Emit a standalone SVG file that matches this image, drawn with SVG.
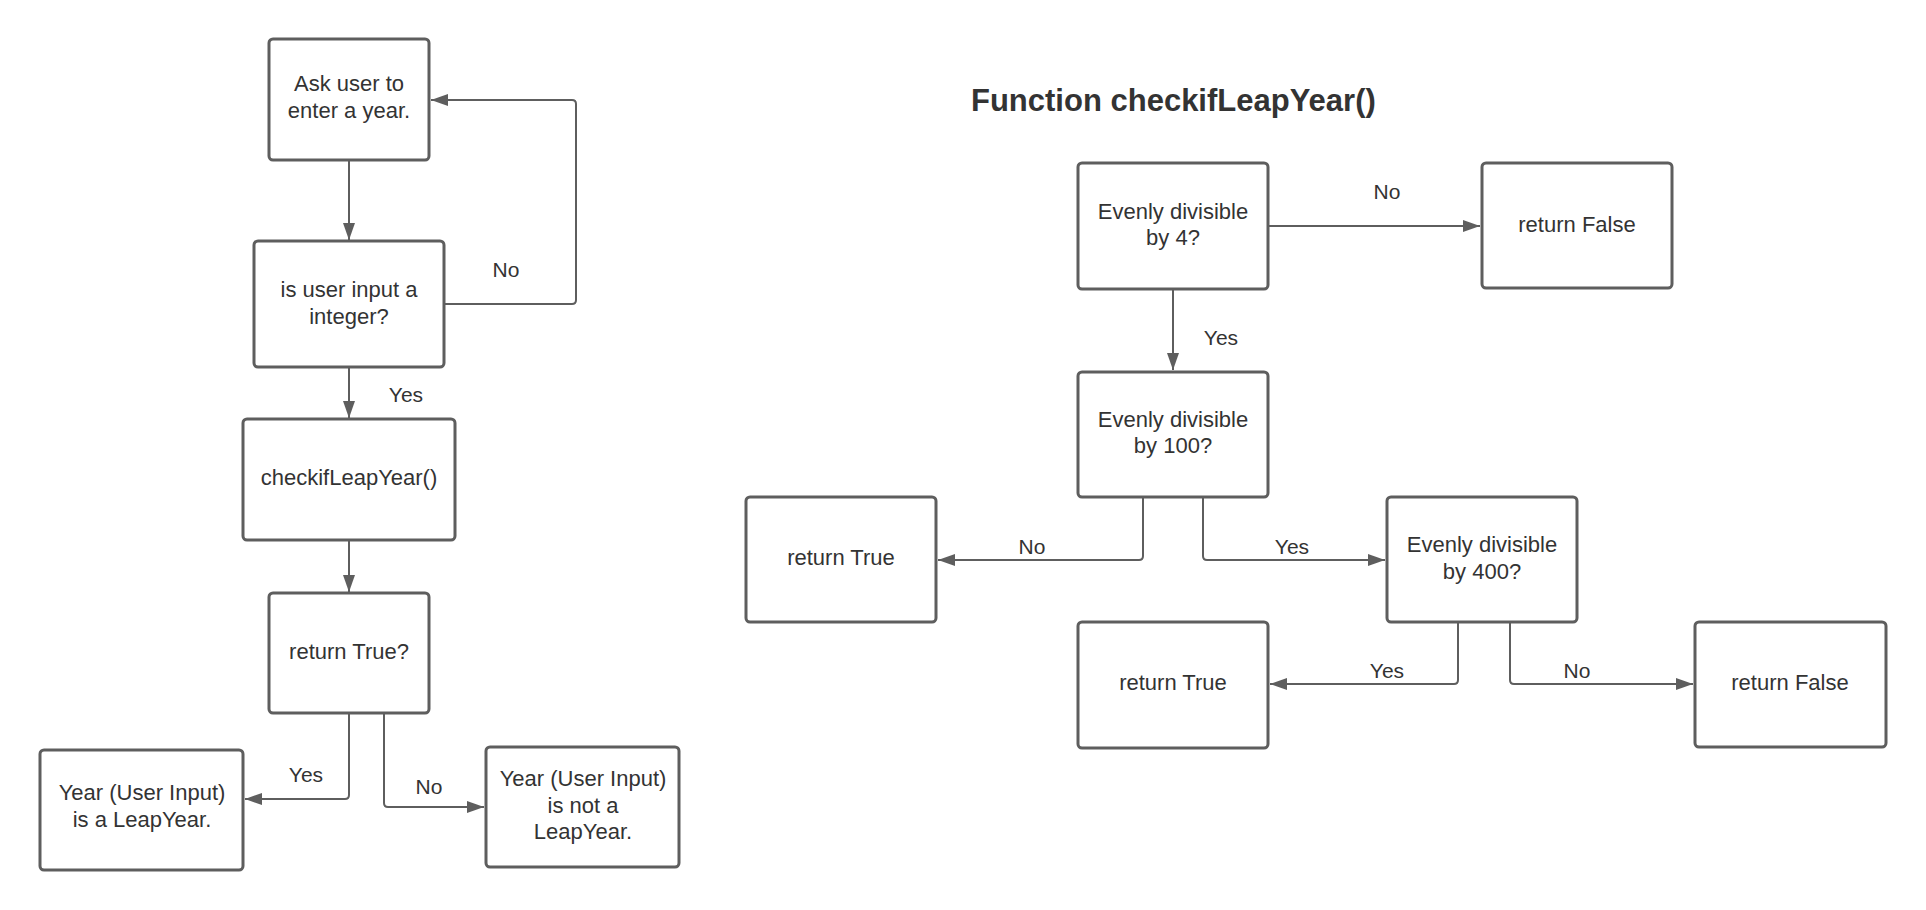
<svg xmlns="http://www.w3.org/2000/svg" width="1926" height="910" viewBox="0 0 1926 910">
<style>
.box{fill:#ffffff;stroke:#5e5e5e;stroke-width:3}
.t{font-family:"Liberation Sans",Arial,sans-serif;font-size:22px;fill:#333333;text-anchor:middle}
.lbl{font-family:"Liberation Sans",Arial,sans-serif;font-size:21px;fill:#333333;text-anchor:middle}
.title{font-family:"Liberation Sans",Arial,sans-serif;font-size:31px;font-weight:bold;fill:#333333}
.c{fill:none;stroke:#5e5e5e;stroke-width:2;marker-end:url(#ah)}
</style>
<defs>
<marker id="ah" markerUnits="userSpaceOnUse" markerWidth="18" markerHeight="13" refX="17" refY="6" orient="auto">
<path d="M0,0 L17,6 L0,12 z" fill="#5e5e5e"/>
</marker>
</defs>
<rect width="1926" height="910" fill="#ffffff"/>

<g id="connectors">
<path class="c" d="M349,160 V240"/>
<path class="c" d="M444,304 H572 Q576,304 576,300 V104 Q576,100 572,100 H431"/>
<path class="c" d="M349,367 V418"/>
<path class="c" d="M349,540 V592"/>
<path class="c" d="M349,713 V795 Q349,799 345,799 H245"/>
<path class="c" d="M384,713 V803 Q384,807 388,807 H484"/>
<path class="c" d="M1268,226 H1480"/>
<path class="c" d="M1173,289 V370"/>
<path class="c" d="M1143,497 V556 Q1143,560 1139,560 H938"/>
<path class="c" d="M1203,497 V556 Q1203,560 1207,560 H1385"/>
<path class="c" d="M1458,622 V680 Q1458,684 1454,684 H1270"/>
<path class="c" d="M1510,622 V680 Q1510,684 1514,684 H1693"/>
</g>

<g id="edge-labels">
<text class="lbl" x="506" y="277">No</text>
<text class="lbl" x="406" y="402">Yes</text>
<text class="lbl" x="306" y="782">Yes</text>
<text class="lbl" x="429" y="794">No</text>
<text class="lbl" x="1387" y="199">No</text>
<text class="lbl" x="1221" y="345">Yes</text>
<text class="lbl" x="1032" y="554">No</text>
<text class="lbl" x="1292" y="554">Yes</text>
<text class="lbl" x="1387" y="678">Yes</text>
<text class="lbl" x="1577" y="678">No</text>
</g>

<g id="title">
<text class="title" x="971" y="111">Function checkifLeapYear()</text>
</g>

<g id="ask">
<rect class="box" x="269" y="39" width="160" height="121" rx="4"/>
<text class="t" x="349" y="91">Ask user to</text>
<text class="t" x="349" y="118">enter a year.</text>
</g>
<g id="isint">
<rect class="box" x="254" y="241" width="190" height="126" rx="4"/>
<text class="t" x="349" y="297">is user input a</text>
<text class="t" x="349" y="324">integer?</text>
</g>
<g id="checkif">
<rect class="box" x="243" y="419" width="212" height="121" rx="4"/>
<text class="t" x="349" y="485">checkifLeapYear()</text>
</g>
<g id="rettrueq">
<rect class="box" x="269" y="593" width="160" height="120" rx="4"/>
<text class="t" x="349" y="659">return True?</text>
</g>
<g id="isleap">
<rect class="box" x="40" y="750" width="203" height="120" rx="4"/>
<text class="t" x="142" y="800">Year (User Input)</text>
<text class="t" x="142" y="827">is a LeapYear.</text>
</g>
<g id="notleap">
<rect class="box" x="486" y="747" width="193" height="120" rx="4"/>
<text class="t" x="583" y="786">Year (User Input)</text>
<text class="t" x="583" y="813">is not a</text>
<text class="t" x="583" y="839">LeapYear.</text>
</g>

<g id="div4">
<rect class="box" x="1078" y="163" width="190" height="126" rx="4"/>
<text class="t" x="1173" y="219">Evenly divisible</text>
<text class="t" x="1173" y="245">by 4?</text>
</g>
<g id="retfalse1">
<rect class="box" x="1482" y="163" width="190" height="125" rx="4"/>
<text class="t" x="1577" y="232">return False</text>
</g>
<g id="div100">
<rect class="box" x="1078" y="372" width="190" height="125" rx="4"/>
<text class="t" x="1173" y="427">Evenly divisible</text>
<text class="t" x="1173" y="453">by 100?</text>
</g>
<g id="rettrue1">
<rect class="box" x="746" y="497" width="190" height="125" rx="4"/>
<text class="t" x="841" y="565">return True</text>
</g>
<g id="div400">
<rect class="box" x="1387" y="497" width="190" height="125" rx="4"/>
<text class="t" x="1482" y="552">Evenly divisible</text>
<text class="t" x="1482" y="579">by 400?</text>
</g>
<g id="rettrue2">
<rect class="box" x="1078" y="622" width="190" height="126" rx="4"/>
<text class="t" x="1173" y="690">return True</text>
</g>
<g id="retfalse2">
<rect class="box" x="1695" y="622" width="191" height="125" rx="4"/>
<text class="t" x="1790" y="690">return False</text>
</g>
</svg>
